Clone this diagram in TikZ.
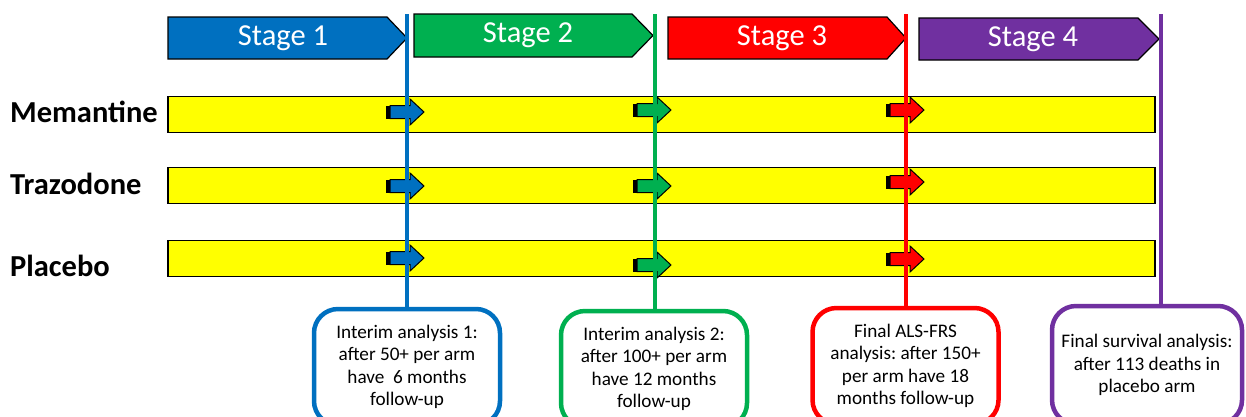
\documentclass[tikz,border=0pt]{standalone}
\usepackage{fontspec}
\setmainfont{Carlito}
\frenchspacing
\definecolor{cblue}{HTML}{0070C0}
\definecolor{cgreen}{HTML}{00B050}
\definecolor{cred}{HTML}{FF0000}
\definecolor{cpurple}{HTML}{7030A0}
\definecolor{cyellow}{HTML}{FFFF00}
\newcommand\mkarrow[3]{%
  \fill[black] (#1,#2-6.5) rectangle (#1+5,#2+6.5);
  \draw[black, line width=1pt, fill=#3] (#1+4,#2-6.5) -- (#1+24,#2-6.5) -- (#1+24,#2-13) -- (#1+38,#2) -- (#1+24,#2+13) -- (#1+24,#2+6.5) -- (#1+4,#2+6.5) -- cycle;}
\newcommand\mkstage[6]{%
  \draw[black, line width=1.2pt, fill=#6] (#1,#2) -- (#3,#2) -- (#4,{(#2+#5)/2}) -- (#3,#5) -- (#1,#5) -- cycle;}
\tikzset{
  bar/.style={draw=black, line width=1.2pt, fill=cyellow, minimum width=987pt, minimum height=36pt, inner sep=0pt},
  rowlab/.style={font=\fontsize{30.5}{33}\selectfont\bfseries, anchor=base west, inner sep=0pt},
  stagelab/.style={font=\fontsize{30.5}{33}\selectfont, text=white, inner sep=0pt},
  abox/.style={draw, line width=4.5pt, rounded corners=24pt, fill=white, align=center, minimum width=186pt, minimum height=116pt, inner sep=2pt, font=\fontsize{19.2}{22.5}\selectfont},
  vline/.style={line width=4pt}
}
\begin{document}
\begin{tikzpicture}[x=1pt,y=-1pt]
\useasboundingbox (0,0) rectangle (1246,416);
\clip (0,0) rectangle (1246,416);
% stage arrows
\mkstage{168}{17}{387}{407}{59}{cblue}
\mkstage{414}{14}{632}{653}{57}{cgreen}
\mkstage{668}{17}{887}{906}{59}{cred}
\mkstage{919}{18}{1138}{1159}{60}{cpurple}
\node[stagelab] (s1) at (283,38) {Stage 1};
\node[stagelab] (s2) at (528,35) {Stage 2};
\node[stagelab] (s3) at (782,38) {Stage 3};
\node[stagelab] (s4) at (1033,39) {Stage 4};
% row labels
\node[rowlab] (lm) at (10,122) {Memantine};
\node[rowlab] (lt) at (10,194) {Trazodone};
\node[rowlab] (lp) at (10,276) {Placebo};
% bars
\node[bar] (bar1) at (661.5,114.5) {};
\node[bar] (bar2) at (661.5,185.5) {};
\node[bar] (bar3) at (661.5,258.5) {};
% small arrows
\mkarrow{386}{112}{cblue}
\mkarrow{386}{186}{cblue}
\mkarrow{386}{258}{cblue}
\mkarrow{633}{110}{cgreen}
\mkarrow{633}{186}{cgreen}
\mkarrow{633}{265}{cgreen}
\mkarrow{886}{110}{cred}
\mkarrow{886}{182}{cred}
\mkarrow{886}{259}{cred}
% boxes
\node[abox, draw=cblue] (b1) at (407,367) {Interim analysis 1:\\after 50+ per arm\\have \ 6 months\\follow-up};
\node[abox, draw=cgreen] (b2) at (654,369) {Interim analysis 2:\\after 100+ per arm\\have 12 months\\follow-up};
\node[abox, draw=cred] (b3) at (905.5,366) {Final ALS-FRS\\analysis: after 150+\\per arm have 18\\months follow-up};
\node[abox, draw=cpurple, minimum width=190pt, minimum height=118pt] (b4) at (1147,365) {Final survival analysis:\\after 113 deaths in\\placebo arm};
% vertical lines
\coordinate (t1) at (407,14);
\coordinate (t2) at (655,14);
\coordinate (t3) at (906,14);
\coordinate (t4) at (1161,14);
\draw[vline, cblue] (t1) -- (t1 |- b1.north);
\draw[vline, cgreen] (t2) -- (t2 |- b2.north);
\draw[vline, cred] (t3) -- (t3 |- b3.north);
\draw[vline, cpurple] (t4) -- (t4 |- b4.north);
\end{tikzpicture}
\end{document}
